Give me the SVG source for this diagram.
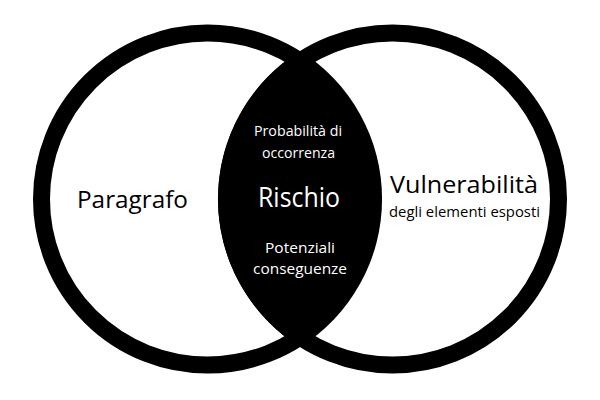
<svg xmlns="http://www.w3.org/2000/svg" width="600" height="400" viewBox="0 0 600 400">
<style>
.ring{fill:#fff;stroke:#000;stroke-width:17}
.t{font-family:"Open Sans","Noto Sans",sans-serif;text-anchor:middle}
.dk{fill:#000}
.lt{fill:#fff}
</style>
<rect width="600" height="400" fill="#fff"/>
<g id="left-circle">
<circle class="ring" cx="207.5" cy="199" r="166"/>
</g>
<g id="right-circle">
<circle class="ring" cx="392.5" cy="199" r="166"/>
</g>
<g id="intersection">
<path d="M300 51 A174.5 174.5 0 0 1 300 347 A174.5 174.5 0 0 1 300 51 Z" fill="#000"/>
</g>
<g id="connectors"/>
<g id="label-left">
<text class="t dk" x="132.5" y="208" font-size="23.5" textLength="111" lengthAdjust="spacingAndGlyphs">Paragrafo</text>
</g>
<g id="label-right">
<text class="t dk" x="464" y="193" font-size="23.5" textLength="148" lengthAdjust="spacingAndGlyphs">Vulnerabilità</text>
<text class="t dk" x="464.5" y="217" font-size="15" textLength="151" lengthAdjust="spacingAndGlyphs">degli elementi esposti</text>
</g>
<g id="label-center">
<text class="t lt" x="298" y="136" font-size="14.5" textLength="88" lengthAdjust="spacingAndGlyphs">Probabilità di</text>
<text class="t lt" x="298.5" y="157.5" font-size="14.5" textLength="73" lengthAdjust="spacingAndGlyphs">occorrenza</text>
<text class="t lt" x="299" y="207" font-size="27" textLength="82" lengthAdjust="spacingAndGlyphs">Rischio</text>
<text class="t lt" x="300" y="253" font-size="14.5" textLength="70" lengthAdjust="spacingAndGlyphs">Potenziali</text>
<text class="t lt" x="300" y="273.5" font-size="14.5" textLength="94" lengthAdjust="spacingAndGlyphs">conseguenze</text>
</g>
</svg>
